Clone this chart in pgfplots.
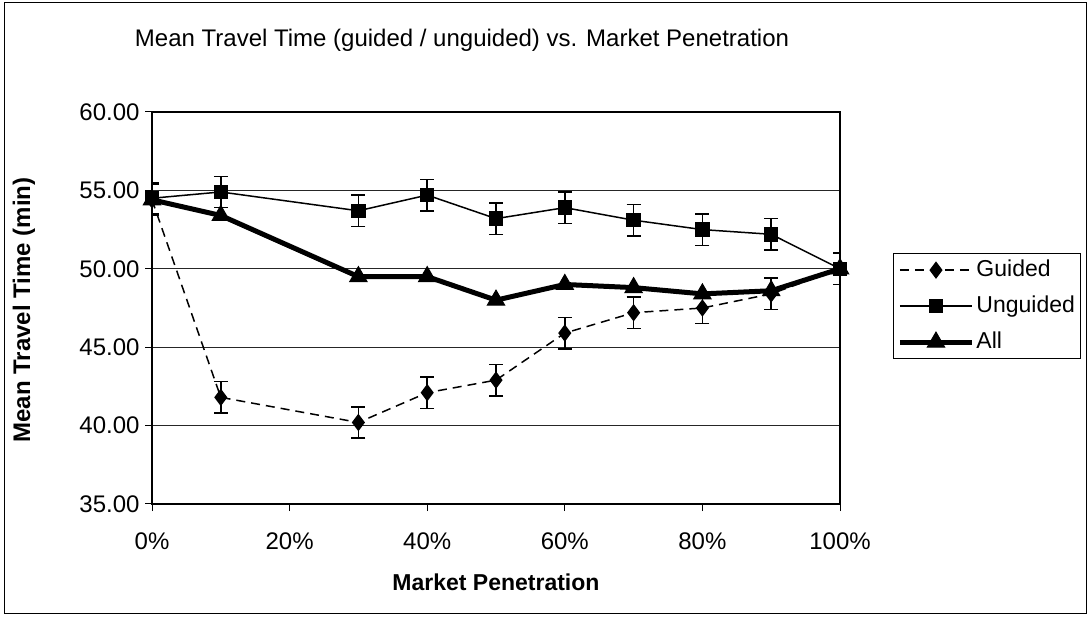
\documentclass[border=0pt]{standalone}
\usepackage{pgfplots}
\pgfplotsset{compat=1.18}
\usepackage{pgfplotstable}
\usepackage{fontspec}
\setmainfont{Liberation Sans}

\pgfplotstableread{
x   g    ge   u    ue   a
0   54.4 1.0  54.5 1.0  54.4
10  41.8 1.0  54.9 1.0  53.4
30  40.2 1.0  53.7 1.0  49.5
40  42.1 1.0  54.7 1.0  49.5
50  42.9 1.0  53.2 1.0  48.0
60  45.9 1.0  53.9 1.0  49.0
70  47.2 1.0  53.1 1.0  48.8
80  47.5 1.0  52.5 1.0  48.4
90  48.4 1.0  52.2 1.0  48.6
100 50.0 1.0  50.0 1.0  50.0
}\data

\begin{document}
\begin{tikzpicture}[x=1pt,y=1pt]
\useasboundingbox (0,0) rectangle (1087,616);
\draw[line width=1pt] (4,3) rectangle (1086,613);
\node[font=\fontsize{24}{28}\selectfont] at (462,576) {Mean Travel Time (guided / unguided) vs. Market Penetration};
\node[rotate=90, font=\bfseries\fontsize{24}{28}\selectfont] at (24,306) {Mean Travel Time (min)};
\node[font=\bfseries\fontsize{23}{27}\selectfont] at (496,34) {Market Penetration};
\begin{axis}[
  at={(152pt,112pt)}, anchor=south west,
  scale only axis, width=688pt, height=392pt,
  xmin=0, xmax=100, ymin=35, ymax=60,
  xtick={0,20,...,100}, ytick={35,40,...,60},
  xticklabel={\pgfmathprintnumber[assume math mode=true]{\tick}\%},
  /pgf/number format/assume math mode=true,
  ticklabel style={font=\fontsize{24}{28}\selectfont},
  xticklabel style={yshift=-18pt},
  yticklabel style={xshift=-2pt, /pgf/number format/.cd, fixed, fixed zerofill, precision=2, assume math mode=true},
  tick align=outside, major tick length=7pt, tick pos=left,
  tick style={black, line width=1pt},
  axis line style={line width=1.5pt},
  ymajorgrids, grid style={black!85, line width=1.2pt},
  legend style={at={(axis description cs:1.077,0.64)}, anchor=north west,
    draw=black, line width=1pt, font=\fontsize{23}{27}\selectfont,
    inner xsep=4pt, inner ysep=5pt, row sep=13pt,
    nodes={text height=16pt, text depth=3pt}},
  legend cell align=left,
  legend image code/.code={\draw[#1, mark repeat=2, mark phase=2] plot coordinates {(0pt,0pt) (36pt,0pt) (72pt,0pt)};},
]
\addplot[black, line width=1.5pt, dash pattern=on 9pt off 6pt, mark=diamond*, mark size=7.5pt, mark options={solid},
  error bars/.cd, y dir=both, y explicit,
  error bar style={solid, line width=1.5pt},
  error mark options={rotate=90, mark size=7pt, line width=1.5pt, solid}]
  table[x=x, y=g, y error=ge] {\data};
\addlegendentry{Guided}
\addplot[black, line width=1.5pt, mark=square*, mark size=6.5pt, mark options={solid},
  error bars/.cd, y dir=both, y explicit,
  error bar style={solid, line width=1.5pt},
  error mark options={rotate=90, mark size=7pt, line width=1.5pt, solid}]
  table[x=x, y=u, y error=ue] {\data};
\addlegendentry{Unguided}
\addplot[black, line width=5pt, mark=triangle*, mark size=10pt, mark options={solid, line width=1pt}]
  table[x=x, y=a] {\data};
\addlegendentry{All}
\end{axis}
\end{tikzpicture}
\end{document}
